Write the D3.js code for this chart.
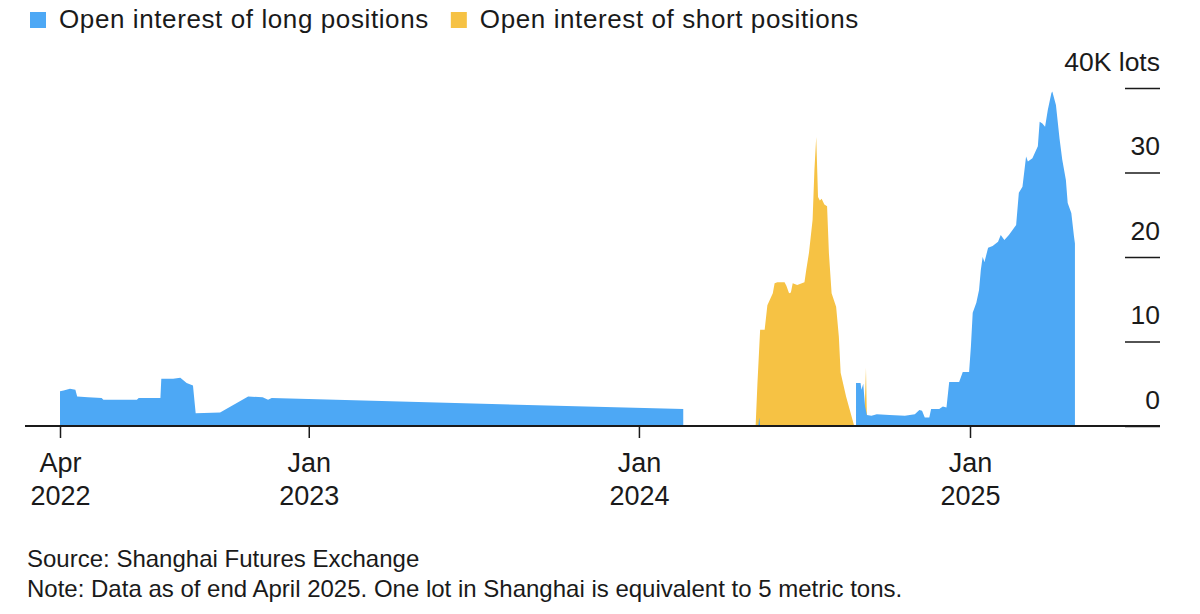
<!DOCTYPE html>
<html>
<head>
<meta charset="utf-8">
<script src="https://cdn.jsdelivr.net/npm/d3@7"></script>
<style>
body{margin:0;background:#fff;}
text{font-family:"Liberation Sans",Arial,sans-serif;fill:#1a1a1a;}
</style>
</head>
<body>
<div class="chart"></div>
<script>
var width=1200,
    height=614;

// open interest, thousand lots (null = no data)
var longDates=["2022-04-01","2022-04-05","2022-04-08","2022-04-12","2022-04-18","2022-04-20","2022-05-02","2022-05-17","2022-05-19","2022-06-25","2022-06-27","2022-07-21","2022-07-22","2022-08-04","2022-08-12","2022-08-19","2022-08-26","2022-08-29","2022-09-25","2022-10-26","2022-11-11","2022-11-17","2022-11-21","2024-02-19","2024-02-20",
    "2024-05-12","2024-05-13","2024-05-14","2024-05-15",
    "2024-08-28","2024-09-02","2024-09-03","2024-09-05","2024-09-07","2024-09-09","2024-09-14","2024-09-20","2024-10-04","2024-10-21","2024-11-01","2024-11-06","2024-11-09","2024-11-12","2024-11-17","2024-11-19","2024-11-28","2024-12-02","2024-12-06","2024-12-09","2024-12-20","2024-12-24","2024-12-31",
    "2025-01-02","2025-01-04","2025-01-08","2025-01-11","2025-01-13","2025-01-15","2025-01-17","2025-01-21","2025-01-26","2025-02-01","2025-02-04","2025-02-08","2025-02-13","2025-02-17","2025-02-21","2025-02-24","2025-02-28","2025-03-04","2025-03-06","2025-03-11","2025-03-17","2025-03-19","2025-03-22","2025-03-25","2025-03-28","2025-04-01","2025-04-02","2025-04-06","2025-04-10","2025-04-13","2025-04-17","2025-04-19","2025-04-23","2025-04-26","2025-04-27"];
var longValues=[4.1,4.2,4.3,4.4,4.3,3.5,3.4,3.3,3.1,3.1,3.3,3.3,5.6,5.6,5.7,5.1,4.8,1.5,1.6,3.5,3.4,3.1,3.3,2.0,null,
    0,1.0,0,null,
    5.1,5.1,4.3,5.0,2.3,1.3,1.2,1.4,1.3,1.2,1.4,1.9,1.8,1.0,1.0,2.0,2.0,2.3,2.2,5.2,5.2,6.4,6.4,
    9.4,13.4,14.6,16.1,18.5,20.0,19.4,21.1,21.3,21.8,22.6,22.0,22.6,23.2,23.8,27.6,28.3,31.9,31.3,31.7,33.1,36.0,35.8,35.4,37.4,39.4,39.6,38.0,34.0,31.5,29.1,26.4,25.2,22.4,21.6];

var shortDates=["2024-05-09","2024-05-11","2024-05-14","2024-05-19","2024-05-22","2024-05-28","2024-05-30","2024-06-02","2024-06-10","2024-06-12","2024-06-15","2024-06-17","2024-06-19","2024-06-24","2024-07-02","2024-07-04","2024-07-07","2024-07-11","2024-07-13","2024-07-15","2024-07-17","2024-07-19","2024-07-21","2024-07-24","2024-07-27","2024-07-29","2024-08-01","2024-08-06","2024-08-09","2024-08-11","2024-08-17","2024-08-26","2024-08-27",
    "2024-09-06","2024-09-08","2024-09-09","2024-09-10"];
var shortValues=[0,5.0,11.4,11.4,14.3,15.7,16.9,17.0,17.0,16.6,15.7,15.8,16.9,16.7,17.0,18.5,20.5,24.4,30.3,34.2,27.1,26.7,26.9,26.2,26.0,20.5,15.7,14.1,10.6,6.3,3.5,0,null,
    0,6.9,1.0,0];

var yTicks=[0,10,20,30,40];
var xTickDates=["2022-04-01","2023-01-01","2024-01-01","2025-01-01"];
var xTickLabels=[["Apr","2022"],["Jan","2023"],["Jan","2024"],["Jan","2025"]];
var legendLabels=["Open interest of long positions","Open interest of short positions"];
var colors=["#4da8f5","#f6c244"];

var parse=d3.timeParse("%Y-%m-%d");
var longData=longDates.map((d,i)=>({date:parse(d),v:longValues[i]}));
var shortData=shortDates.map((d,i)=>({date:parse(d),v:shortValues[i]}));

var svg=d3.select('.chart')
    .append('svg')
        .attr("width",width)
        .attr("height",height);

var x=d3.scaleTime()
    .domain([parse("2022-04-01"),parse("2025-01-01")])
    .range([60,970]);
var y=d3.scaleLinear()
    .domain([0,40])
    .range([426,88]);

var area=d3.area()
    .defined(d=>d.v!=null)
    .x(d=>x(d.date))
    .y0(y(0))
    .y1(d=>y(d.v));

svg.append('path')
    .datum(shortData)
    .attr('fill',colors[1])
    .attr('d',area);
svg.append('path')
    .datum(longData)
    .attr('fill',colors[0])
    .attr('d',area);

// right axis: short tick lines with labels above them
var yAxis=svg.append('g')
    .attr('transform','translate(1160,0)')
    .call(d3.axisLeft(y).tickValues(yTicks).tickSize(35).tickFormat(d=>d===40?"40K lots":d));
yAxis.select('.domain').remove();
yAxis.selectAll('.tick line').attr('stroke','#1a1a1a').attr('stroke-width',1.5);
yAxis.selectAll('.tick text')
    .attr('x',0)
    .attr('dy',-18)
    .attr('text-anchor','end')
    .style('font-size','26.5px')
    .style('font-family','"Liberation Sans",Arial,sans-serif')
    .attr('fill','#1a1a1a');

// baseline
svg.append('line')
    .attr('x1',25).attr('x2',1160)
    .attr('y1',y(0)).attr('y2',y(0))
    .attr('stroke','#1a1a1a')
    .attr('stroke-width',2);

var xAxis=svg.append('g')
    .attr('transform',`translate(0,${y(0)})`)
    .call(d3.axisBottom(x).tickValues(xTickDates.map(parse)).tickSize(12).tickFormat(""));
xAxis.select('.domain').remove();
xAxis.selectAll('.tick line').attr('stroke','#1a1a1a').attr('stroke-width',1.5);

var xLab=xAxis.selectAll('.tick text')
    .data(xTickLabels)
    .attr('y',0)
    .attr('dy',null)
    .style('font-size','27px')
    .style('font-family','"Liberation Sans",Arial,sans-serif')
    .attr('fill','#1a1a1a');
xLab.append('tspan').attr('x',0).attr('y',46).text(d=>d[0]);
xLab.append('tspan').attr('x',0).attr('y',79).text(d=>d[1]);

// legend
var lx=30;
legendLabels.forEach((lab,i)=>{
    svg.append('rect')
        .attr('x',lx).attr('y',12)
        .attr('width',16).attr('height',16)
        .attr('fill',colors[i]);
    var t=svg.append('text')
        .attr('x',lx+29).attr('y',28)
        .style('font-size','26px')
        .style('letter-spacing','0.6px')
        .text(lab);
    lx=lx+29+t.node().getComputedTextLength()+22;
});

svg.append('text')
    .attr('x',27).attr('y',567)
    .style('font-size','24px')
    .text('Source: Shanghai Futures Exchange');
svg.append('text')
    .attr('x',27).attr('y',597)
    .style('font-size','24px')
    .text('Note: Data as of end April 2025. One lot in Shanghai is equivalent to 5 metric tons.');
</script>
</body>
</html>
